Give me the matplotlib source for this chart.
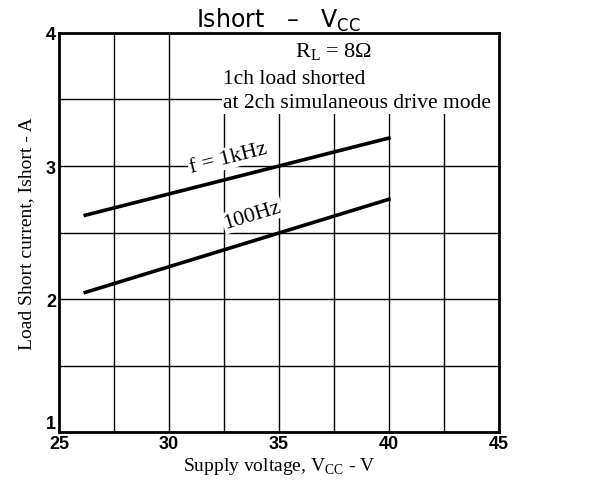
import matplotlib
matplotlib.use("Agg")
import matplotlib.pyplot as plt
from matplotlib.patches import Rectangle
import numpy as np

# data
vcc = [26.2, 40.0]
i_1khz = [2.63, 3.21]
i_100hz = [2.05, 2.75]
x_ticks = [25, 30, 35, 40, 45]
y_ticks = [1, 2, 3, 4]

serif = ["Liberation Serif", "DejaVu Serif"]
sans = ["Liberation Sans Narrow", "Liberation Sans", "DejaVu Sans"]

fig = plt.figure(figsize=(5.89, 4.85), dpi=100)
ax = fig.add_axes([0.100, 0.107, 0.747, 0.823])
ax.set_xlim(25, 45)
ax.set_ylim(1, 4)

xg = np.arange(25, 45.01, 2.5)
yg = np.arange(1, 4.01, 0.5)
ax.set_xticks(xg)
ax.set_yticks(yg)
ax.set_xticklabels([str(int(v)) if v in x_ticks else "" for v in xg])
ax.set_yticklabels([str(int(v)) if v in y_ticks else "" for v in yg])
ax.tick_params(length=0, pad=2)
for lab in ax.get_xticklabels() + ax.get_yticklabels():
    lab.set_fontfamily(sans)
    lab.set_fontweight("bold")
    lab.set_fontsize(13)
ax.get_yticklabels()[0].set_va("bottom")
ax.grid(True, color="black", linewidth=1.0, zorder=1)
ax.set_axisbelow(True)
for s in ax.spines.values():
    s.set_linewidth(2.0)
    s.set_zorder(5)

# white box behind annotation text
ax.add_patch(Rectangle((32.4, 3.39), 12.6, 0.61, facecolor="white", edgecolor="none", zorder=2))

ax.plot(vcc, i_1khz, color="black", linewidth=2.6, zorder=4)
ax.plot(vcc, i_100hz, color="black", linewidth=2.6, zorder=4)

# line labels
p0 = ax.transData.transform((vcc[0], i_1khz[0]))
p1 = ax.transData.transform((vcc[1], i_1khz[1]))
ang = np.degrees(np.arctan2(p1[1] - p0[1], p1[0] - p0[0]))
ax.text(32.7, 3.06, "f = 1kHz", rotation=ang, rotation_mode="anchor", ha="center", va="center",
        fontfamily=serif, fontsize=16, zorder=3,
        bbox=dict(facecolor="white", edgecolor="none", pad=1))
p0 = ax.transData.transform((vcc[0], i_100hz[0]))
p1 = ax.transData.transform((vcc[1], i_100hz[1]))
ang2 = np.degrees(np.arctan2(p1[1] - p0[1], p1[0] - p0[0]))
ax.text(33.8, 2.63, "100Hz", rotation=ang2, rotation_mode="anchor", ha="center", va="center",
        fontfamily=serif, fontsize=16, zorder=3,
        bbox=dict(facecolor="white", edgecolor="none", pad=1))

ax.text(37.5, 3.86, r"R$_\mathregular{L}$ = 8Ω", ha="center", va="center", fontfamily=serif, fontsize=16, zorder=3)
ax.text(32.45, 3.66, "1ch load shorted", ha="left", va="center", fontfamily=serif, fontsize=15.5, zorder=3)
ax.text(32.45, 3.48, "at 2ch simulaneous drive mode", ha="left", va="center", fontfamily=serif, fontsize=15.5, zorder=3)

ax.set_title(r"Ishort   –   V$_\mathregular{CC}$", fontfamily=["DejaVu Sans"], fontsize=17, pad=3)
ax.set_xlabel(r"Supply voltage, V$_\mathregular{CC}$ - V", fontfamily=serif, fontsize=14, labelpad=2)
ax.set_ylabel("Load Short current, Ishort - A", fontfamily=serif, fontsize=14, labelpad=8)

fig.savefig("out.png", dpi=100)
